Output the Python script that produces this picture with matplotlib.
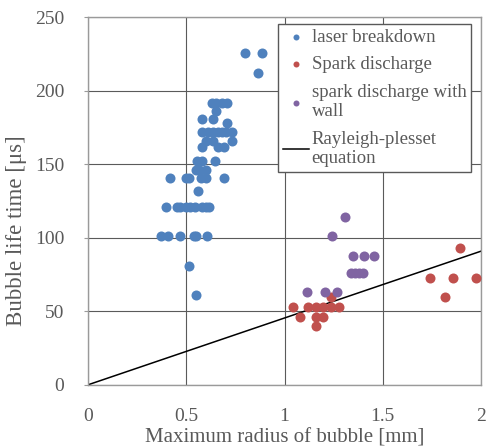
import numpy as np
import matplotlib.pyplot as plt

plt.rcParams.update({'font.family': 'Liberation Serif', 'font.size': 13.5})

# laser breakdown
laser_r = [0.63, 0.65, 0.68, 0.71, 0.65, 0.58, 0.635, 0.71,
           0.58, 0.61, 0.635, 0.66, 0.68, 0.70, 0.735,
           0.60, 0.635, 0.735, 0.58, 0.66, 0.69,
           0.556, 0.58, 0.648, 0.548, 0.566, 0.60,
           0.42, 0.497, 0.514, 0.575, 0.60, 0.694, 0.561,
           0.397, 0.451, 0.47, 0.50, 0.519, 0.546, 0.582, 0.60, 0.617,
           0.372, 0.409, 0.47, 0.541, 0.55, 0.604,
           0.516, 0.55, 0.80, 0.887, 0.867]
laser_t = [192, 192, 192, 192, 186, 181, 181, 178,
           172, 172, 172, 172, 172, 172, 172,
           166, 166, 166, 162, 162, 162,
           152, 152, 152, 146, 146, 146,
           141, 141, 141, 141, 141, 141, 132,
           121, 121, 121, 121, 121, 121, 121, 121, 121,
           101, 101, 101, 101, 101, 101,
           81, 61, 226, 226, 212]

# spark discharge
spark_r = [1.237, 1.042, 1.118, 1.159, 1.198, 1.237, 1.277,
           1.079, 1.159, 1.198, 1.159,
           1.893, 1.74, 1.856, 1.975, 1.817]
spark_t = [60, 53, 53, 53, 53, 53, 53,
           46, 46, 46, 40,
           93, 73, 73, 73, 60]

# spark discharge with wall
wall_r = [1.257, 1.306, 1.242, 1.347, 1.406, 1.455,
          1.34, 1.36, 1.38, 1.40, 1.116, 1.206, 1.269]
wall_t = [148, 114, 101, 88, 88, 88,
          76, 76, 76, 76, 63, 63, 63]

# Rayleigh-plesset equation
rp_r = [0, 2]
rp_t = [0, 91]

fig = plt.figure(figsize=(4.88, 4.47), dpi=100)
ax = fig.add_axes([0.180, 0.139, 0.806, 0.822])

ax.scatter(laser_r, laser_t, s=52, color='#4F81BD', label='laser breakdown', zorder=3, linewidths=0)
ax.scatter(spark_r, spark_t, s=52, color='#C0504D', label='Spark discharge', zorder=3, linewidths=0)
ax.scatter(wall_r, wall_t, s=52, color='#8064A2', label='spark discharge with\nwall', zorder=3, linewidths=0)
ax.plot(rp_r, rp_t, '-k', lw=1.1, label='Rayleigh-plesset\nequation', zorder=2)

ax.set_xlim(0, 2)
ax.set_ylim(0, 250)
ax.set_xticks([0, 0.5, 1, 1.5, 2])
ax.set_xticklabels(['0', '0.5', '1', '1.5', '2'])
ax.set_yticks(np.arange(0, 251, 50))
ax.grid(True, color='#5a5a5a', lw=0.8, zorder=0)
ax.set_axisbelow(True)
for s in ax.spines.values():
    s.set_color('#9a9a9a')
    s.set_linewidth(1.0)
ax.tick_params(axis='x', length=0, pad=17, colors='#595959', labelsize=14)
ax.tick_params(axis='y', length=3, pad=14, colors='#9a9a9a', labelcolor='#595959', labelsize=14)

ax.set_xlabel('Maximum radius of bubble [mm]', color='#595959', fontsize=15, labelpad=2)
ax.set_ylabel('Bubble life time [μs]', color='#595959', fontsize=16.5)
ax.yaxis.set_label_coords(-0.155, 0.42)

leg = ax.legend(loc='upper left', bbox_to_anchor=(0.483, 0.982), fancybox=False,
                framealpha=1, edgecolor='#595959', labelspacing=0.55, borderpad=0.25,
                handlelength=1.4, handletextpad=0.15, markerscale=0.6, borderaxespad=0,
                fontsize=13.5)
for t in leg.get_texts():
    t.set_color('#595959')
leg.get_frame().set_linewidth(1.0)
leg.set_zorder(5)

fig.savefig('out.png', dpi=100)
